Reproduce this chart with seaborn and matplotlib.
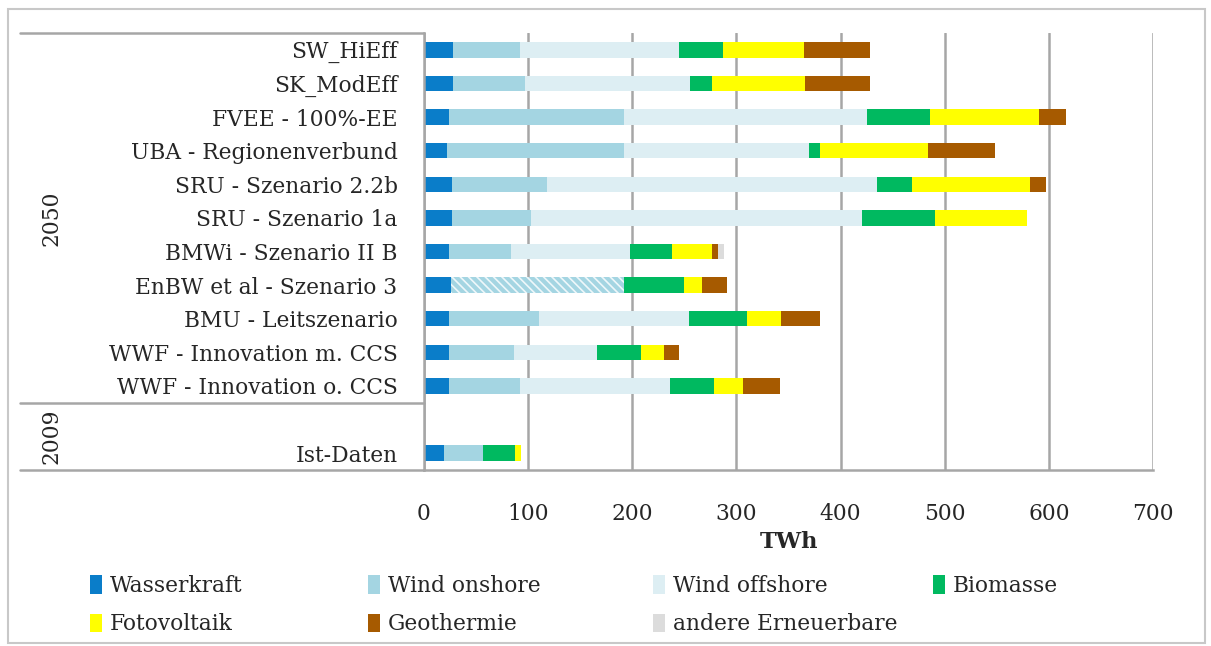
import matplotlib
matplotlib.use("Agg")
import numpy as np
import pandas as pd
import matplotlib.pyplot as plt
import seaborn as sns
from matplotlib.patches import Patch, Rectangle

# scenario names, top to bottom (blank row separates 2050 from 2009)
scenarios = [
    "SW_HiEff", "SK_ModEff", "FVEE - 100%-EE", "UBA - Regionenverbund",
    "SRU - Szenario 2.2b", "SRU - Szenario 1a", "BMWi - Szenario II B",
    "EnBW et al - Szenario 3", "BMU - Leitszenario",
    "WWF - Innovation m. CCS", "WWF - Innovation o. CCS", "Ist-Daten",
]
blank_row = " "
order = scenarios[:11] + [blank_row] + scenarios[11:]

# TWh per source
wasserkraft = [28, 28, 24, 22, 27, 27, 24, 26, 24, 24, 24, 19]
wind_onshore = [64, 69, 168, 170, 91, 76, 60, 166, 86, 62, 68, 38]
wind_offshore = [153, 158, 233, 178, 317, 318, 114, 0, 144, 80, 144, 0]
biomasse = [42, 22, 61, 10, 34, 70, 40, 58, 56, 42, 42, 30]
fotovoltaik = [78, 89, 105, 104, 113, 88, 39, 17, 33, 22, 28, 6]
geothermie = [63, 62, 25, 64, 15, 0, 5, 24, 37, 15, 36, 0]
andere = [0, 0, 0, 0, 0, 0, 6, 0, 0, 0, 0, 0]

sources = ["Wasserkraft", "Wind onshore", "Wind offshore", "Biomasse",
           "Fotovoltaik", "Geothermie", "andere Erneuerbare"]
colors = ["#0A7DC9", "#A4D5E2", "#DDEEF3", "#00B960",
          "#FFFF00", "#A65A00", "#DCDCDC"]
hatched_scenario = "EnBW et al - Szenario 3"  # onshore+offshore combined

df = pd.DataFrame({
    "scenario": scenarios,
    "Wasserkraft": wasserkraft,
    "Wind onshore": wind_onshore,
    "Wind offshore": wind_offshore,
    "Biomasse": biomasse,
    "Fotovoltaik": fotovoltaik,
    "Geothermie": geothermie,
    "andere Erneuerbare": andere,
})
cum = df[sources].cumsum(axis=1)
cum["scenario"] = df["scenario"]

sns.set_style("white")
plt.rcParams["font.family"] = ["DejaVu Serif", "DejaVu Sans"]
plt.rcParams["hatch.linewidth"] = 1.2
fs = 15.7

fig = plt.figure(figsize=(12.11, 6.46), dpi=100)
ax = fig.add_axes([424 / 1211, 1 - 470 / 646, 729 / 1211, 437 / 646])

grid_col = "#A6A6A6"
ax.set_axisbelow(True)
ax.xaxis.grid(True, color=grid_col, linewidth=1.8)

# stacked bars: draw cumulative totals from outermost to innermost
for k in range(len(sources) - 1, -1, -1):
    n_before = len(ax.patches)
    sns.barplot(data=cum, y="scenario", x=sources[k], order=order,
                color=colors[k], saturation=1, width=0.46, linewidth=0,
                orient="h", ax=ax)
    if sources[k] == "Wind onshore":
        idx = order.index(hatched_scenario)
        for p in ax.patches[n_before:]:
            if abs(p.get_y() + p.get_height() / 2 - idx) < 0.1:
                p.set_hatch("\\\\\\\\")
                p.set_edgecolor("#EEF7FA")
                p.set_linewidth(0)

ax.set_xlim(0, 700)
ax.set_xticks(np.arange(0, 701, 100))
ax.set_ylim(len(order) - 0.5, -0.5)
ax.set_ylabel("")
ax.set_xlabel("TWh", fontsize=fs + 0.5, fontweight="bold", labelpad=4)
ax.tick_params(axis="x", length=8, width=1.2, color=grid_col, pad=16,
               labelsize=fs)
ax.tick_params(axis="y", length=0, pad=19, labelsize=fs)

for s in ["top", "right"]:
    ax.spines[s].set_visible(False)
for s in ["left", "bottom"]:
    ax.spines[s].set_color(grid_col)
    ax.spines[s].set_linewidth(1.8)

# category group lines and year labels on the left
x_left = (20 - 424) / 729
sep = 2 / len(order)
for yy in [1.0, sep, 0.0]:
    ax.plot([x_left, 0], [yy, yy], color=grid_col, lw=1.8,
            transform=ax.transAxes, clip_on=False)
x_year = (52 - 424) / 729
ax.text(x_year, (1 + sep) / 2, "2050", rotation=90, ha="center", va="center",
        fontsize=fs, transform=ax.transAxes)
ax.text(x_year, sep / 2, "2009", rotation=90, ha="center", va="center",
        fontsize=fs, transform=ax.transAxes)

# legend: one small legend per column so the columns sit evenly spaced
legend_cols = [[0, 4], [1, 5], [2, 6], [3]]
col_x = [90, 368, 653, 933]
top = 1 - 575 / 646
for cols, xpx in zip(legend_cols, col_x):
    handles = [Patch(facecolor=colors[i], edgecolor="none") for i in cols]
    labels = [sources[i] for i in cols]
    fig.legend(handles, labels, loc="upper left",
               bbox_to_anchor=(xpx / 1211, top), frameon=False,
               fontsize=fs, handlelength=0.55, handleheight=0.9,
               handletextpad=0.35, labelspacing=0.75, borderaxespad=0,
               borderpad=0)

# outer chart border
fig.patches.append(Rectangle((8 / 1211, 3 / 646), 1197 / 1211, 634 / 646,
                             transform=fig.transFigure, fill=False,
                             edgecolor="#C8C8C8", linewidth=1.5))

fig.savefig("out.png", dpi=100)
